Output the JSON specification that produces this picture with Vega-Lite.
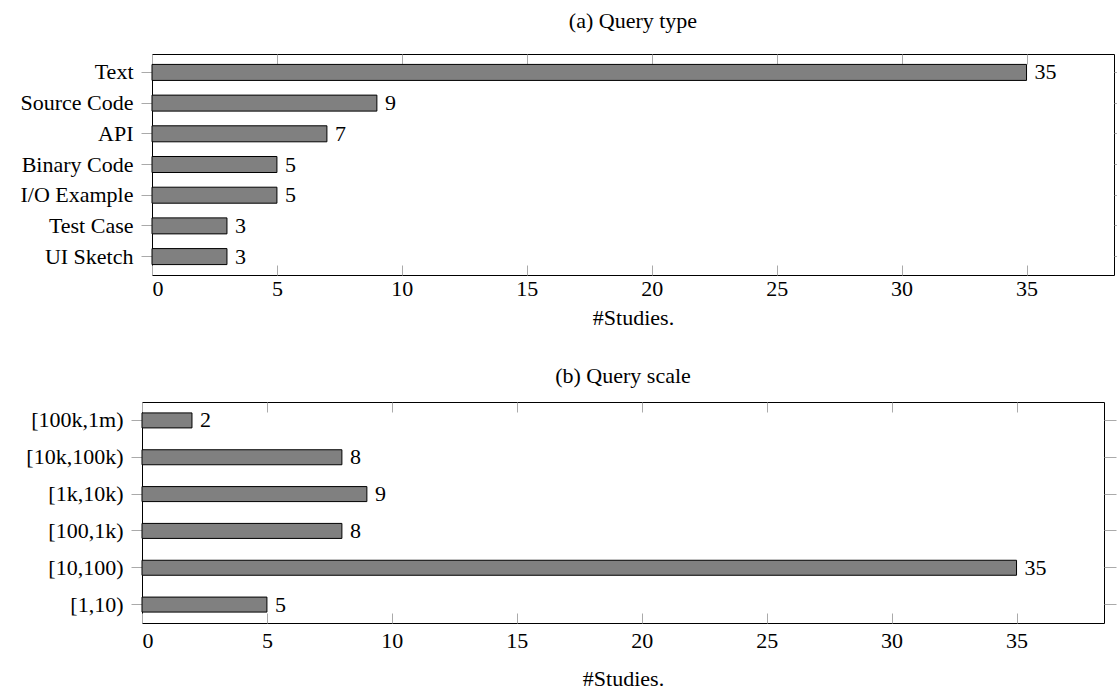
{
  "$schema": "https://vega.github.io/schema/vega-lite/v6.json",
  "padding": {"left": 18, "top": 9, "right": 0, "bottom": 0},
  "background": "white",
  "config": {
    "font": "Liberation Serif",
    "view": {"stroke": "black", "strokeWidth": 1},
    "axis": {
      "domain": false,
      "grid": false,
      "labelFont": "Liberation Serif",
      "labelFontSize": 22,
      "labelColor": "black",
      "titleFont": "Liberation Serif",
      "titleFontSize": 22,
      "titleFontWeight": "normal",
      "titleColor": "black",
      "tickColor": "#aaaaaa",
      "tickWidth": 1
    },
    "title": {"font": "Liberation Serif", "fontSize": 22, "fontWeight": "normal", "color": "black"},
    "text": {"font": "Liberation Serif", "fontSize": 22, "color": "black"}
  },
  "spacing": 35,
  "vconcat": [
    {
      "spacing": 0,
      "hconcat": [
        {
          "width": 1, "height": 1,
          "view": {"stroke": null},
          "data": {"values": []},
          "mark": "rect",
          "encoding": {}
        },
        {
          "title": {"text": "(a) Query type", "offset": 21},
          "width": 962,
          "height": 221,
          "data": {"values": [
            {"type": "Text", "n": 35},
            {"type": "Source Code", "n": 9},
            {"type": "API", "n": 7},
            {"type": "Binary Code", "n": 5},
            {"type": "I/O Example", "n": 5},
            {"type": "Test Case", "n": 3},
            {"type": "UI Sketch", "n": 3}
          ]},
          "layer": [
            {
              "mark": {"type": "bar", "fill": "#808080", "stroke": "black", "strokeWidth": 1, "size": 16},
              "encoding": {
                "x": {"field": "n", "type": "quantitative", "scale": {"domain": [0, 38.5], "nice": false, "zero": true},
                      "axis": {"orient": "bottom", "values": [0, 5, 10, 15, 20, 25, 30, 35], "title": "#Studies.", "tickSize": -10, "labelPadding": 13, "titlePadding": 8}},
                "y": {"field": "type", "type": "nominal", "sort": null, "scale": {"paddingInner": 0, "paddingOuter": 0.1},
                      "axis": {"orient": "left", "title": null, "tickSize": 11, "labelPadding": 8}}
              }
            },
            {
              "mark": {"type": "text", "align": "left", "baseline": "middle", "dx": 8},
              "encoding": {
                "x": {"field": "n", "type": "quantitative",
                      "axis": {"orient": "top", "values": [0, 5, 10, 15, 20, 25, 30, 35], "labels": false, "title": null, "tickSize": -10}},
                "y": {"field": "type", "type": "nominal", "sort": null,
                      "axis": {"orient": "right", "labels": false, "title": null, "tickSize": 3}},
                "text": {"field": "n", "type": "quantitative"}
              }
            }
          ],
          "resolve": {"axis": {"x": "independent", "y": "independent"}}
        }
      ]
    },
    {
      "spacing": 0,
      "hconcat": [
        {
          "width": 7, "height": 1,
          "view": {"stroke": null},
          "data": {"values": []},
          "mark": "rect",
          "encoding": {}
        },
        {
          "title": {"text": "(b) Query scale", "offset": 14},
          "width": 962,
          "height": 221,
          "data": {"values": [
            {"scale": "[100k,1m)", "n": 2},
            {"scale": "[10k,100k)", "n": 8},
            {"scale": "[1k,10k)", "n": 9},
            {"scale": "[100,1k)", "n": 8},
            {"scale": "[10,100)", "n": 35},
            {"scale": "[1,10)", "n": 5}
          ]},
          "layer": [
            {
              "mark": {"type": "bar", "fill": "#808080", "stroke": "black", "strokeWidth": 1, "size": 15},
              "encoding": {
                "x": {"field": "n", "type": "quantitative", "scale": {"domain": [0, 38.5], "nice": false, "zero": true},
                      "axis": {"orient": "bottom", "values": [0, 5, 10, 15, 20, 25, 30, 35], "title": "#Studies.", "tickSize": -10, "labelPadding": 17, "titlePadding": 17}},
                "y": {"field": "scale", "type": "nominal", "sort": null, "scale": {"paddingInner": 0, "paddingOuter": 0},
                      "axis": {"orient": "left", "title": null, "tickSize": 11, "labelPadding": 8}}
              }
            },
            {
              "mark": {"type": "text", "align": "left", "baseline": "middle", "dx": 8},
              "encoding": {
                "x": {"field": "n", "type": "quantitative",
                      "axis": {"orient": "top", "values": [0, 5, 10, 15, 20, 25, 30, 35], "labels": false, "title": null, "tickSize": -10}},
                "y": {"field": "scale", "type": "nominal", "sort": null,
                      "axis": {"orient": "right", "labels": false, "title": null, "tickSize": 12}},
                "text": {"field": "n", "type": "quantitative"}
              }
            }
          ],
          "resolve": {"axis": {"x": "independent", "y": "independent"}}
        }
      ]
    }
  ]
}
